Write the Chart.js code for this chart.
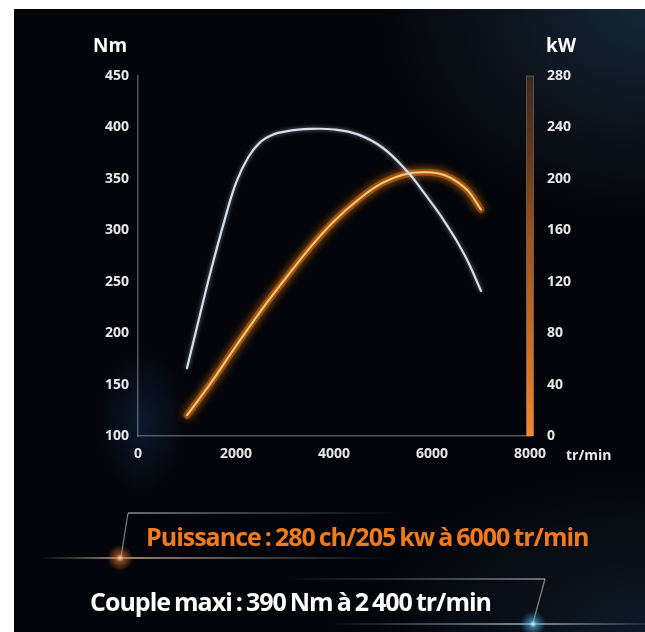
<!DOCTYPE html>
<html>
<head>
<meta charset="utf-8">
<script src="https://cdn.jsdelivr.net/npm/chart.js@4.4.0/dist/chart.umd.min.js"></script>
<style>
  html, body { margin: 0; padding: 0; background: #fff; }
  #wrap { position: relative; width: 645px; height: 632px; overflow: hidden; }
  #bg {
    position: absolute; left: 14px; top: 9px; width: 631px; height: 623px;
    background:
      radial-gradient(ellipse 330px 260px at 631px 0px, rgba(40,70,95,0.5), rgba(0,0,0,0) 80%),
      radial-gradient(ellipse 55px 90px at 128px 412px, rgba(25,60,110,0.35), rgba(0,0,0,0) 80%),
      radial-gradient(ellipse 340px 200px at 631px 623px, rgba(25,45,65,0.5), rgba(0,0,0,0) 80%),
      #04050a;
  }
  #deco { position: absolute; left: 0; top: 0; }
  canvas { position: absolute; left: 0; top: 0; }
  .lbl { position: absolute; color: #fff; font-family: "Open Sans", sans-serif; white-space: nowrap; }
  .unit { font-size: 19px; font-weight: 700; line-height: 20px; }
  .small { font-size: 14px; font-weight: 700; line-height: 16px; color: #e8e8e8; }
  .big { font-size: 25px; font-weight: 700; line-height: 30px; letter-spacing: -1px; word-spacing: -1.5px; }
</style>
</head>
<body>
<div id="wrap">
  <div id="bg"></div>
  <svg id="deco" width="645" height="632">
    <defs>
      <linearGradient id="l1" gradientUnits="userSpaceOnUse" x1="128" y1="0" x2="400" y2="0">
        <stop offset="0" stop-color="rgba(190,195,205,0.7)"/>
        <stop offset="1" stop-color="rgba(190,195,205,0)"/>
      </linearGradient>
      <linearGradient id="l2" gradientUnits="userSpaceOnUse" x1="285" y1="0" x2="545" y2="0">
        <stop offset="0" stop-color="rgba(190,195,205,0)"/>
        <stop offset="1" stop-color="rgba(190,195,205,0.7)"/>
      </linearGradient>
      <linearGradient id="b1" gradientUnits="userSpaceOnUse" x1="40" y1="0" x2="390" y2="0">
        <stop offset="0" stop-color="rgba(200,190,180,0)"/>
        <stop offset="0.23" stop-color="rgba(235,205,175,0.85)"/>
        <stop offset="1" stop-color="rgba(200,200,210,0)"/>
      </linearGradient>
      <linearGradient id="b2" gradientUnits="userSpaceOnUse" x1="330" y1="0" x2="645" y2="0">
        <stop offset="0" stop-color="rgba(180,200,220,0)"/>
        <stop offset="0.64" stop-color="rgba(190,220,240,0.85)"/>
        <stop offset="1" stop-color="rgba(180,200,220,0.15)"/>
      </linearGradient>
      <radialGradient id="g1">
        <stop offset="0" stop-color="rgba(255,230,200,1)"/>
        <stop offset="0.3" stop-color="rgba(240,130,60,0.55)"/>
        <stop offset="1" stop-color="rgba(240,110,40,0)"/>
      </radialGradient>
      <radialGradient id="g2">
        <stop offset="0" stop-color="rgba(230,250,255,1)"/>
        <stop offset="0.3" stop-color="rgba(90,190,230,0.55)"/>
        <stop offset="1" stop-color="rgba(60,150,210,0)"/>
      </radialGradient>
    </defs>
    <line x1="128" y1="513" x2="400" y2="513" stroke="url(#l1)" stroke-width="1.5"/>
    <line x1="128" y1="513" x2="121" y2="557" stroke="rgba(190,195,205,0.6)" stroke-width="1.3"/>
    <line x1="40" y1="558" x2="390" y2="558" stroke="url(#b1)" stroke-width="1.5"/>
    <circle cx="120" cy="558" r="13" fill="url(#g1)"/>
    <line x1="285" y1="579" x2="545" y2="579" stroke="url(#l2)" stroke-width="1.5"/>
    <line x1="545" y1="579" x2="533" y2="623" stroke="rgba(190,200,215,0.6)" stroke-width="1.3"/>
    <line x1="330" y1="624" x2="645" y2="624" stroke="url(#b2)" stroke-width="1.5"/>
    <circle cx="533" cy="624" r="13" fill="url(#g2)"/>
  </svg>
  <canvas id="myChart" width="645" height="632"></canvas>
  <div class="lbl unit" style="left:93px; top:35px;">Nm</div>
  <div class="lbl unit" style="left:546px; top:35px;">kW</div>
  <div class="lbl small" style="left:566px; top:447px;">tr/min</div>
  <div class="lbl big" style="left:146px; top:521px; color:#f07a1c;">Puissance : 280 ch/205 kw à 6000 tr/min</div>
  <div class="lbl big" style="left:90px; top:586px;">Couple maxi : 390 Nm à 2 400 tr/min</div>
</div>
<script>
const rpmTicks = [0, 2000, 4000, 6000, 8000];
const nmTicks = [100, 150, 200, 250, 300, 350, 400, 450];
const kwTicks = [0, 40, 80, 120, 160, 200, 240, 280];

const torqueRpm = [1000, 1250, 1500, 1750, 2000, 2250, 2500, 2750, 3000, 3500, 4000, 4500, 5000, 5500, 5750, 6000, 6250, 6500, 6750, 7000];
const torqueNm = [166, 215, 263, 307, 346, 371, 386, 393, 396, 398.5, 398, 393, 380, 357, 342, 326, 309, 290, 268, 241];

const powerRpm = [1000, 1500, 2000, 2500, 3000, 3500, 4000, 4500, 5000, 5500, 6000, 6250, 6500, 6750, 7000];
const powerKw = [16, 42, 70, 97, 122, 146, 167, 184, 197, 204, 205, 203, 198, 190, 176];

const tickFont = { family: "Open Sans", size: 14, weight: "bold" };
const tickColor = "#e8e8e8";

function toPoints(xs, ys) {
  return xs.map((x, i) => ({ x: x, y: ys[i] }));
}

const glowPlugin = {
  id: "glow",
  beforeDatasetDraw(chart, args) {
    const ds = chart.data.datasets[args.index];
    const ctx = chart.ctx;
    ctx.save();
    if (ds.glowColor) {
      ctx.shadowColor = ds.glowColor;
      ctx.shadowBlur = ds.glowBlur;
    }
  },
  afterDatasetDraw(chart) {
    chart.ctx.restore();
  },
};

// thick orange right axis
const powerAxisPlugin = {
  id: "powerAxis",
  beforeDatasetsDraw(chart) {
    const area = chart.chartArea;
    const x = chart.scales.y2.left;
    const ctx = chart.ctx;
    const g = ctx.createLinearGradient(0, area.top, 0, area.bottom);
    g.addColorStop(0, "rgba(110,65,40,0.5)");
    g.addColorStop(0.45, "rgba(185,100,35,0.85)");
    g.addColorStop(1, "rgba(245,135,45,1)");
    ctx.save();
    ctx.fillStyle = g;
    ctx.fillRect(x - 3.5, area.top, 7, area.bottom - area.top);
    ctx.strokeStyle = "rgba(200,170,150,0.35)";
    ctx.lineWidth = 1;
    ctx.strokeRect(x - 3.5, area.top, 7, area.bottom - area.top);
    ctx.restore();
  },
};

function createChart() {
  const data = {
    datasets: [
      {
        label: "Couple",
        data: toPoints(torqueRpm, torqueNm),
        yAxisID: "y",
        borderColor: "#d9dee6",
        borderWidth: 2.2,
        glowColor: "rgba(200,210,230,0.6)",
        glowBlur: 4,
        order: 0,
      },
      {
        label: "Puissance",
        data: toPoints(powerRpm, powerKw),
        yAxisID: "y2",
        borderColor: "#ffc978",
        borderWidth: 2,
        glowColor: "rgba(255,140,20,1)",
        glowBlur: 8,
        order: 1,
      },
      {
        label: "Puissance halo",
        data: toPoints(powerRpm, powerKw),
        yAxisID: "y2",
        borderColor: "rgba(215,115,25,0.5)",
        borderWidth: 7,
        glowColor: "rgba(230,115,20,0.9)",
        glowBlur: 10,
        order: 2,
      },
    ],
  };

  const config = {
    type: "line",
    data,
    options: {
      responsive: false,
      animation: false,
      layout: { padding: { top: 76, left: 0, right: 0, bottom: 0 } },
      elements: {
        point: { radius: 0 },
        line: { tension: 0.4, borderCapStyle: "round" },
      },
      plugins: { legend: { display: false }, tooltip: { enabled: false } },
      scales: {
        x: {
          type: "linear",
          min: 0,
          max: 8000,
          afterBuildTicks: (s) => { s.ticks = rpmTicks.map((v) => ({ value: v })); },
          afterFit: (s) => { s.height = 196; },
          grid: { display: false, drawTicks: false },
          border: { display: true, color: "rgba(130,140,150,0.6)", width: 1.5 },
          ticks: { color: tickColor, font: tickFont, padding: 10, maxRotation: 0, callback: (v) => String(v) },
        },
        y: {
          position: "left",
          min: 100,
          max: 450,
          afterBuildTicks: (s) => { s.ticks = nmTicks.map((v) => ({ value: v })); },
          afterFit: (s) => { s.width = 138; },
          grid: { display: false, drawTicks: false },
          border: { display: true, color: "rgba(130,140,150,0.6)", width: 1.5 },
          ticks: { color: tickColor, font: tickFont, padding: 9, callback: (v) => String(v) },
        },
        y2: {
          position: "right",
          min: 0,
          max: 280,
          afterBuildTicks: (s) => { s.ticks = kwTicks.map((v) => ({ value: v })); },
          afterFit: (s) => { s.width = 115; },
          grid: { display: false, drawTicks: false },
          border: { display: false },
          ticks: { color: tickColor, font: tickFont, padding: 17, callback: (v) => String(v) },
        },
      },
    },
    plugins: [glowPlugin, powerAxisPlugin],
  };
  new Chart(document.getElementById("myChart"), config);
}

document.addEventListener("DOMContentLoaded", () => {
  createChart();
});
</script>
</body>
</html>
